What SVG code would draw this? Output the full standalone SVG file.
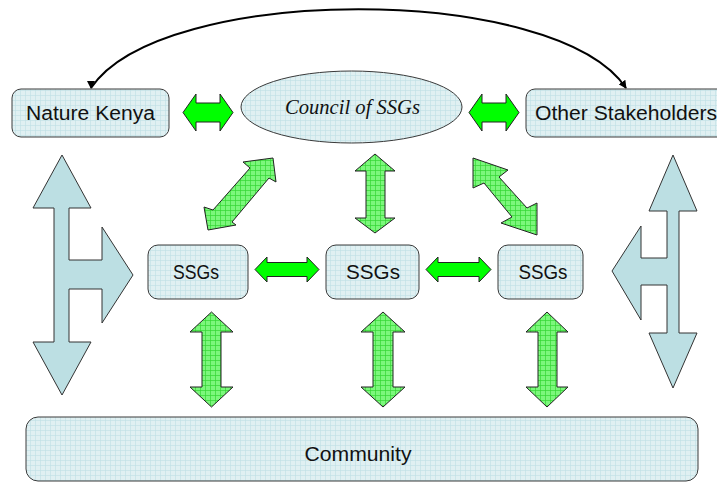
<svg xmlns="http://www.w3.org/2000/svg" width="717" height="483" viewBox="0 0 717 483">
<defs>
<pattern id="gridBlue" width="5" height="5" patternUnits="userSpaceOnUse">
<rect width="5" height="5" fill="#e0f0f2"/>
<path d="M0 0.5H5M0.5 0V5" stroke="#bfdfe4" stroke-width="0.6"/>
</pattern>
<pattern id="gridGreen" width="5" height="5" patternUnits="userSpaceOnUse">
<rect width="5" height="5" fill="#7cf77c"/>
<path d="M0 0.5H5M0.5 0V5" stroke="#33d633" stroke-width="0.7"/>
</pattern>
<marker id="head" viewBox="0 0 10 10" refX="9" refY="5" markerWidth="8" markerHeight="8" markerUnits="userSpaceOnUse" orient="auto">
<path d="M0 0L10 5L0 10Z" fill="#000"/>
</marker>
<style>
.box{fill:url(#gridBlue);stroke:#3a3a3a;stroke-width:1}
.lbl{font-family:"Liberation Sans",Arial,sans-serif;font-size:20px;fill:#111;text-anchor:middle}
.ital{font-family:"Liberation Serif","Times New Roman",serif;font-style:italic;font-size:20px;fill:#111;text-anchor:middle}
.solid{fill:#00ff00;stroke:#222;stroke-width:1;stroke-linejoin:miter}
.hatch{fill:url(#gridGreen);stroke:#222;stroke-width:1}
.blue{fill:#bcdfe3;stroke:#333;stroke-width:1}
</style>
</defs>
<rect width="717" height="483" fill="#fff"/>

<g id="connectors">
<path d="M91 88 C161 -17 556 -17 626 88" fill="none" stroke="#000" stroke-width="2" marker-end="url(#head)"/>
<path d="M95 81 L91 89 L87 81 Z" fill="#000"/>
<polygon class="solid" points="183,112.5 196,94 196,103 220,103 220,94 233,112.5 220,131 220,122 196,122 196,131"/>
<polygon class="solid" points="469,112.5 482,94 482,103 506,103 506,94 519,112.5 506,131 506,122 482,122 482,131"/>
<polygon class="solid" points="255,269.5 267,257 267,262.5 307,262.5 307,257 319,269.5 307,282 307,276.5 267,276.5 267,282"/>
<polygon class="solid" points="426,269.5 438,257 438,262.5 479,262.5 479,257 491,269.5 479,282 479,276.5 438,276.5 438,282"/>
<polygon class="hatch" points="273,158 243,162 250,168 213,210 204,207 208,230 236,225 232,222 269,178 276,182"/>
<polygon class="hatch" points="473,158 508,170 499,177 527,208 537,203 537,235 501,223 512,217 484,183 473,188"/>
<polygon class="hatch" points="375,154 395,171 385,171 385,218 395,218 375,233 355,218 366,218 366,171 355,171"/>
<polygon class="hatch" points="211.5,312 233,332 221,332 221,387 233,387 211.5,407 190,387 202,387 202,332 190,332"/>
<polygon class="hatch" points="383,312 405,332 393,332 393,387 405,387 383,407 361,387 373,387 373,332 361,332"/>
<polygon class="hatch" points="547,312 568,332 557,332 557,387 568,387 547,407 526,387 538,387 538,332 526,332"/>
<polygon class="blue" points="62,155 91,208 69,208 69,260 102,260 102,227 133,275 102,323 102,289 69,289 69,342 91,342 62,395 33,342 54,342 54,208 33,208"/>
<polygon class="blue" points="673,155 697,211 679,211 679,333 697,333 673,388 649,333 667,333 667,285 641,285 641,320 612,271 641,226 641,258 667,258 667,211 649,211"/>
</g>

<g id="nature-kenya">
<rect class="box" x="12" y="89" width="157" height="48" rx="9"/>
<text class="lbl" x="90.5" y="120" textLength="129" lengthAdjust="spacingAndGlyphs">Nature Kenya</text>
</g>
<g id="council">
<ellipse class="box" cx="351.5" cy="107" rx="110.5" ry="36"/>
<text class="ital" x="352.5" y="114" textLength="135" lengthAdjust="spacingAndGlyphs">Council of SSGs</text>
</g>
<g id="other-stakeholders">
<rect class="box" x="526" y="89" width="200" height="48" rx="9"/>
<text class="lbl" x="535" y="120" style="text-anchor:start" textLength="182" lengthAdjust="spacingAndGlyphs">Other Stakeholders</text>
</g>
<g id="ssgs-left">
<rect class="box" x="148" y="245" width="100" height="54" rx="10"/>
<text class="lbl" x="196" y="279" textLength="46" lengthAdjust="spacingAndGlyphs">SSGs</text>
</g>
<g id="ssgs-middle">
<rect class="box" x="326" y="245" width="93" height="54" rx="10"/>
<text class="lbl" x="373" y="279" textLength="54" lengthAdjust="spacingAndGlyphs">SSGs</text>
</g>
<g id="ssgs-right">
<rect class="box" x="498" y="245" width="85" height="54" rx="10"/>
<text class="lbl" x="543" y="279" textLength="49" lengthAdjust="spacingAndGlyphs">SSGs</text>
</g>
<g id="community">
<rect class="box" x="26" y="417" width="672" height="64" rx="12"/>
<text class="lbl" x="358" y="461" textLength="107" lengthAdjust="spacingAndGlyphs">Community</text>
</g>
</svg>
